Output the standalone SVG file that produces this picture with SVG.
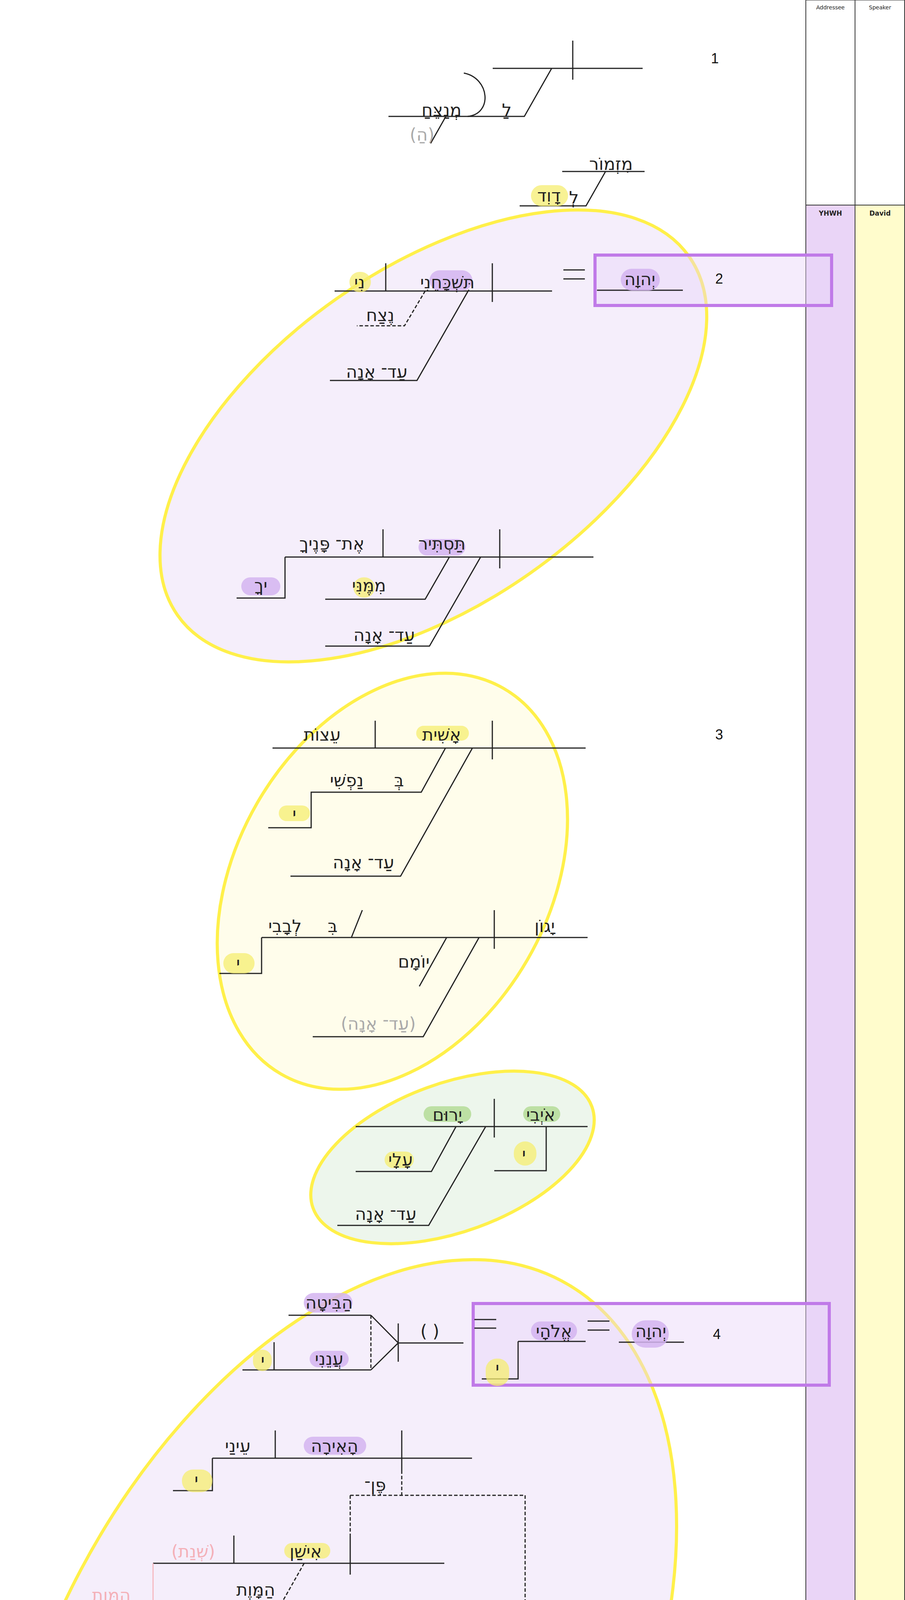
<svg xmlns="http://www.w3.org/2000/svg" width="2318" height="6901" viewBox="0 0 2318 6901">
<style>
.ln{stroke:#222;stroke-width:3;fill:none}
.d{stroke-dasharray:9,5}
.pkl{stroke:#f6b8c0;stroke-width:3;fill:none}
.he{font-family:"DejaVu Sans",sans-serif;font-size:44px;text-anchor:middle;fill:#222}
.gr{fill:#aaa}
.pk{fill:#f4b0b8}
.num{font-family:"Liberation Sans",sans-serif;font-size:36px;text-anchor:middle;fill:#111}
.hy{fill:#f6ee70;opacity:.75}
.hp{fill:#d4b4f0;opacity:.85}
.hg{fill:#b4dc98;opacity:.85}
.ell{stroke:#fff04a;stroke-width:8}
.box{fill:#e8d4f8;fill-opacity:.45;stroke:#c07ae8;stroke-width:8}
.tb{font-family:"DejaVu Sans",sans-serif;text-anchor:middle;fill:#222}
</style>
<rect width="2318" height="6901" fill="#fff"/>
<g id="table">
<rect x="2064" y="0" width="126" height="525" fill="#fff" stroke="#333" stroke-width="2"/>
<rect x="2190" y="0" width="127" height="525" fill="#fff" stroke="#333" stroke-width="2"/>
<rect x="2064" y="525" width="126" height="6376" fill="#ead5f7" stroke="#333" stroke-width="2"/>
<rect x="2190" y="525" width="127" height="6376" fill="#fffccc" stroke="#333" stroke-width="2"/>
<text class="tb" x="2127" y="24" font-size="14">Addressee</text>
<text class="tb" x="2254" y="24" font-size="14">Speaker</text>
<text class="tb" x="2127" y="552" font-size="17" font-weight="bold">YHWH</text>
<text class="tb" x="2254" y="552" font-size="17" font-weight="bold">David</text>
<rect x="2084" y="4422" width="89" height="268" fill="#bde396" stroke="#333" stroke-width="2"/>
<rect x="2213" y="4422" width="89" height="268" fill="#bde396" stroke="#333" stroke-width="2"/>
<text class="tb" x="2128" y="4444" font-size="13">Enemies</text>
<text class="tb" x="2257" y="4444" font-size="13">Enemies</text>
</g>
<g id="regions">
<ellipse class="ell" cx="1110" cy="1116" rx="800" ry="430" fill="#f5eefb" transform="rotate(-35 1110 1116)"/>
<ellipse class="ell" cx="1005" cy="2256" rx="570" ry="400" fill="#fffdeb" transform="rotate(-60 1005 2256)"/>
<ellipse class="ell" cx="1159" cy="2963" rx="380" ry="190" fill="#edf6ec" transform="rotate(-20 1159 2963)"/>
<ellipse class="ell" cx="861" cy="4365" rx="1230" ry="740" fill="#f5eefb" transform="rotate(-62 861 4365)"/>
<ellipse class="ell" cx="727" cy="4876" rx="700" ry="470" fill="#e2ebd8" transform="rotate(-42 727 4876)"/>
<ellipse cx="1162" cy="6138" rx="575" ry="666" fill="#fffdeb" stroke="#c89be8" stroke-width="7" transform="rotate(5 1162 6138)"/>
<rect class="box" x="1524" y="653" width="606" height="129"/>
<rect class="box" x="1212" y="3337" width="912" height="209"/>
<rect x="336" y="4457" width="340" height="245" fill="none" stroke="#8fd14f" stroke-width="16"/>
</g>
<g id="connectors">
<path class="ln" d="M1262,175 H1646 M1467,104 V204 M1413,175 L1343,298 H995 M1142,298 L1103,367"/>
<path class="ln" d="M1188,187 C1255,200 1262,292 1198,298"/>
<path class="ln" d="M1440,439 H1651 M1551,439 L1501,527 H1331"/>
<path class="ln" d="M857,745 H1414 M1261,674 V773 M988,674 V745 M1199,745 L1068,974 H845"/>
<path class="ln d" d="M1089,745 L1036,834 H914"/>
<path class="ln" d="M1443,691 H1498 M1443,714 H1498 M1529,743 H1749"/>
<path class="ln" d="M730,1426 H1520 M1280,1355 V1455 M981,1355 V1426 M730,1426 V1531 H606 M1151,1426 L1089,1534 H833 M1231,1426 L1100,1654 H833"/>
<path class="ln" d="M698,1915 H1500 M1261,1845 V1944 M961,1845 V1915 M1141,1915 L1079,2028 H797 V2119 H687 M1210,1915 L1026,2243 H744"/>
<path class="ln" d="M670,2400 H1505 M1266,2330 V2429 M928,2330 L900,2400 M670,2400 V2492 H562 M1144,2400 L1074,2525 M1227,2400 L1084,2654 H801"/>
<path class="ln" d="M911,2884 H1505 M1266,2813 V2912 M1399,2884 V2997 H1266 M1168,2884 L1105,2999 H911 M1244,2884 L1098,3137 H864"/>
<path class="ln" d="M739,3367 H950 M621,3507 H950 M702,3436 V3507 M950,3367 L1020,3438 L950,3507 M1020,3438 H1187 M1020,3388 V3486"/>
<path class="ln d" d="M950,3367 V3507"/>
<path class="ln" d="M1215,3378 H1271 M1215,3400 H1271 M1327,3434 H1500 M1327,3434 V3530 H1234 M1505,3382 H1561 M1505,3405 H1561 M1585,3436 H1752"/>
<path class="ln" d="M544,3733 H1209 M1029,3662 V3764 M705,3662 V3733 M544,3733 V3816 H443"/>
<path class="ln d" d="M1029,3764 V3828 M897,3828 H1345 V4205 M1345,4360 V4903 M897,3828 V3931"/>
<path class="ln" d="M392,4002 H1138 M599,3931 V4002 M897,3931 V4031 M724,4099 H514 M661,4099 L599,4205 M599,4355 L598,4366"/>
<path class="ln d" d="M779,4002 L724,4099"/>
<path class="pkl" d="M392,4002 V4114 H123 M291,4114 L239,4205 M236,4358 L230,4376"/>
<path class="ln" d="M612,4503 V4694 M389,4574 H736 M612,4694 L584,4744 M612,4694 L640,4744 M687,4715 V4744 M350,4744 H1138 M897,4671 V4773 M1016,4744 V4847 H919"/>
<path class="ln d" d="M566,4574 L510,4671 M897,4584 H1345 M897,4584 V4671 M897,4903 H1345 M897,4903 V5000 M897,5090 V5218 H639 V5303"/>
<path class="ln" d="M510,4671 H377 M897,5000 V5090 M658,5060 H1138 M1075,5060 V5144 H968 M639,5303 V5407 M399,5378 H880"/>
<path class="ln" d="M1614,5530 H1763"/>
<path class="ln" d="M1040,5622 H1522 M1283,5551 V5651 M1201,5622 L1137,5733 H857 V5823 H726"/>
<path class="ln" d="M1056,5936 H1538 M1299,5864 V5965 M1430,5936 V6027 H1320 M1230,5936 L1168,6048 H886 V6139 H732"/>
<path class="ln" d="M1060,6257 H1542 M1302,6187 V6285 M1228,6257 L1162,6369 H881"/>
<path class="ln d" d="M1302,6285 V6472 H1158 V6573"/>
<path class="ln" d="M1158,6573 V6678 M915,6649 H1397 M1091,6649 L1034,6752 H868"/>
</g>
<g id="highlights">
<rect class="hy" x="1360" y="474" width="95" height="54" rx="27"/>
<rect class="hp" x="1100" y="692" width="110" height="52" rx="26"/>
<rect class="hy" x="895" y="696" width="55" height="52" rx="26"/>
<rect class="hp" x="1590" y="688" width="100" height="56" rx="28"/>
<rect class="hp" x="1072" y="1380" width="120" height="42" rx="21"/>
<rect class="hy" x="905" y="1478" width="55" height="52" rx="26"/>
<rect class="hp" x="618" y="1478" width="100" height="46" rx="23"/>
<rect class="hy" x="1066" y="1858" width="135" height="38" rx="19"/>
<rect class="hy" x="714" y="2062" width="80" height="40" rx="20"/>
<rect class="hy" x="572" y="2440" width="80" height="52" rx="26"/>
<rect class="hg" x="1085" y="2832" width="122" height="40" rx="20"/>
<rect class="hg" x="1340" y="2832" width="95" height="40" rx="20"/>
<rect class="hy" x="1316" y="2922" width="58" height="62" rx="29"/>
<rect class="hy" x="985" y="2948" width="75" height="42" rx="21"/>
<rect class="hp" x="778" y="3310" width="125" height="50" rx="25"/>
<rect class="hp" x="793" y="3458" width="100" height="42" rx="21"/>
<rect class="hy" x="648" y="3455" width="48" height="55" rx="24"/>
<rect class="hp" x="1360" y="3383" width="118" height="48" rx="24"/>
<rect class="hy" x="1244" y="3478" width="60" height="70" rx="28"/>
<rect class="hp" x="1618" y="3380" width="95" height="70" rx="35"/>
<rect class="hp" x="778" y="3678" width="160" height="46" rx="23"/>
<rect class="hy" x="466" y="3762" width="78" height="58" rx="28"/>
<rect class="hy" x="728" y="3950" width="118" height="40" rx="20"/>
<rect class="hg" x="457" y="4520" width="120" height="44" rx="22"/>
<rect class="hy" x="432" y="4600" width="52" height="64" rx="26"/>
<rect class="hg" x="745" y="4685" width="115" height="42" rx="21"/>
<rect class="hg" x="970" y="4685" width="108" height="42" rx="21"/>
<rect class="hy" x="938" y="4791" width="55" height="70" rx="27"/>
<rect class="hg" x="726" y="5004" width="120" height="42" rx="21"/>
<rect class="hg" x="1036" y="5004" width="100" height="42" rx="21"/>
<rect class="hy" x="982" y="5084" width="80" height="50" rx="25"/>
<rect class="hy" x="463" y="5312" width="122" height="60" rx="30"/>
<rect class="hy" x="1358" y="5565" width="85" height="46" rx="23"/>
<rect class="hy" x="1089" y="5568" width="157" height="40" rx="20"/>
<rect class="hp" x="778" y="5774" width="62" height="36" rx="18"/>
<rect class="hy" x="1150" y="5880" width="82" height="40" rx="20"/>
<rect class="hy" x="1335" y="5971" width="68" height="50" rx="25"/>
<rect class="hp" x="765" y="6086" width="97" height="42" rx="21"/>
<rect class="hy" x="1078" y="6200" width="175" height="40" rx="20"/>
<rect class="hp" x="923" y="6302" width="105" height="55" rx="27"/>
<rect class="hp" x="985" y="6584" width="108" height="52" rx="26"/>
<rect class="hy" x="912" y="6684" width="75" height="55" rx="27"/>
</g>
<g id="v1">
<text class="he" x="1131" y="297">מְנַצֵּחַ</text>
<text class="he" x="1298" y="297">לַ</text>
<text class="he gr" x="1081" y="360">(הַ)</text>
<text class="num" x="1831" y="162">1</text>
<text class="he" x="1565" y="435">מִזְמוֹר</text>
<text class="he" x="1470" y="521">לְ</text>
<text class="he" x="1406" y="516">דָוִד</text>
</g>
<g id="v2">
<text class="he" x="1146" y="738">תִּשְׁכָּחֵנִי</text>
<text class="he" x="921" y="738">נִי</text>
<text class="he" x="974" y="822">נֶצַח</text>
<text class="he" x="965" y="967">עַד־ אָנָה</text>
<text class="he" x="1639" y="730">יְהוָה</text>
<text class="num" x="1842" y="726">2</text>
<text class="he" x="1132" y="1407">תַּסְתִּיר</text>
<text class="he" x="850" y="1407">אֶת־ פָּנֶיךָ</text>
<text class="he" x="668" y="1514">יךָ</text>
<text class="he" x="945" y="1514">מִמֶּנִּי</text>
<text class="he" x="984" y="1641">עַד־ אָנָה</text>
</g>
<g id="v3">
<text class="he" x="1131" y="1896">אָשִׁית</text>
<text class="he" x="825" y="1896">עֵצוֹת</text>
<text class="he" x="1022" y="2013">בְּ</text>
<text class="he" x="888" y="2013">נַפְשִׁי</text>
<text class="he" x="754" y="2099">י</text>
<text class="he" x="931" y="2223">עַד־ אָנָה</text>
<text class="he" x="1395" y="2386">יָגוֹן</text>
<text class="he" x="852" y="2386">בִּ</text>
<text class="he" x="730" y="2386">לְבָבִי</text>
<text class="he" x="610" y="2481">י</text>
<text class="he" x="1060" y="2477">יוֹמָם</text>
<text class="he gr" x="969" y="2636">(עַד־ אָנָה)</text>
<text class="num" x="1842" y="1893">3</text>
<text class="he" x="1385" y="2869">אֹיְבִי</text>
<text class="he" x="1146" y="2869">יָרוּם</text>
<text class="he" x="1342" y="2970">י</text>
<text class="he" x="1026" y="2984">עָלָי</text>
<text class="he" x="988" y="3123">עַד־ אָנָה</text>
</g>
<g id="v4">
<text class="he" x="843" y="3350">הַבִּיטָה</text>
<text class="he" x="843" y="3494">עֲנֵנִי</text>
<text class="he" x="673" y="3498">י</text>
<text class="he" x="1101" y="3423">( )</text>
<text class="he" x="1419" y="3423">אֱלֹהָי</text>
<text class="he" x="1274" y="3518">י</text>
<text class="he" x="1667" y="3423">יְהוָה</text>
<text class="num" x="1836" y="3428">4</text>
<text class="he" x="857" y="3717">הָאִירָה</text>
<text class="he" x="609" y="3717">עֵינַי</text>
<text class="he" x="503" y="3804">י</text>
<text class="he" x="961" y="3817">פֶּן־</text>
<text class="he" x="783" y="3987">אִישַׁן</text>
<text class="he pk" x="495" y="3987">(שְׁנַת)</text>
<text class="he pk" x="285" y="4099">הַמָּוֶת</text>
<text class="he pk" x="248" y="4173">הַ</text>
<text class="he" x="655" y="4085">הַמָּוֶת</text>
<text class="he" x="610" y="4157">הַ</text>
</g>
<g id="v5">
<text class="he" x="517" y="4556">יְכָלְתִּיו</text>
<text class="he" x="458" y="4652">ו</text>
<text class="he" x="803" y="4722">יֹאמַר</text>
<text class="he" x="1024" y="4722">אֹיְבִי</text>
<text class="he" x="965" y="4842">י</text>
<text class="he" x="1200" y="4569">פֶּן־</text>
<text class="he gr" x="1215" y="4886">(פֶּן־)</text>
<text class="he" x="786" y="5042">יָגִילוּ</text>
<text class="he" x="1086" y="5042">צָרַי</text>
<text class="he" x="1020" y="5124">י</text>
<text class="he" x="794" y="5203">כִּי</text>
<text class="he" x="525" y="5361">אֶמּוֹט</text>
<text class="num" x="1843" y="4580">5</text>
</g>
<g id="v6">
<text class="he" x="1688" y="5518">וַ</text>
<text class="num" x="1837" y="5524">6</text>
<text class="he" x="1402" y="5607">אֲנִי</text>
<text class="he" x="1168" y="5607">בָטַחְתִּי</text>
<text class="he" x="1085" y="5718">בְּ</text>
<text class="he" x="927" y="5718">חַסְדְּךָ</text>
<text class="he" x="808" y="5809">ךָ</text>
<text class="he" x="1411" y="5916">לִבִּי</text>
<text class="he" x="1187" y="5916">יָגֵל</text>
<text class="he" x="1366" y="6009">י</text>
<text class="he" x="1137" y="6031">בִּ</text>
<text class="he" x="1013" y="6031">ישׁוּעָתֶךָ</text>
<text class="he" x="812" y="6124">ךָ</text>
<text class="he" x="1183" y="6236">אָשִׁירָה</text>
<text class="he" x="1096" y="6349">לַ</text>
<text class="he" x="978" y="6349">יהוָה</text>
<text class="he" x="1229" y="6455">כִּי</text>
<text class="he" x="1040" y="6629">גָמַל</text>
<text class="he" x="964" y="6732">עָלָי</text>
</g>
</svg>
